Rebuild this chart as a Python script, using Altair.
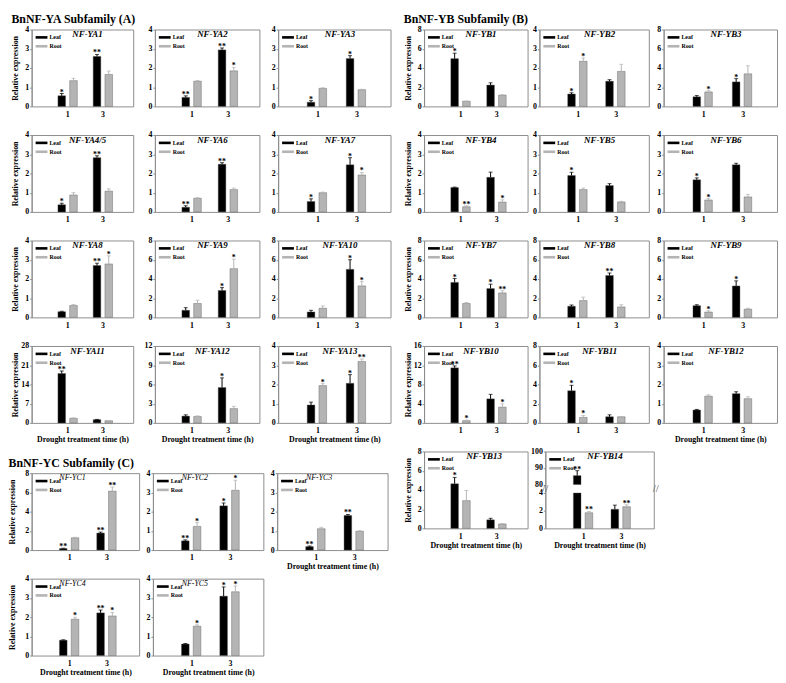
import altair as alt
import pandas as pd

FONT = "Liberation Serif"
TIMES = ["1", "3"]
SERIES = ["Leaf", "Root"]
COLORS = ["#000000", "#b4b4b4"]
XTITLE = "Drought treatment time (h)"
YTITLE = "Relative expression"

# mean expression at 1 h and 3 h
leaf_mean = {
    "NF-YA1": [0.55, 2.60], "NF-YA2": [0.47, 2.94], "NF-YA3": [0.22, 2.49],
    "NF-YA4/5": [0.37, 2.82], "NF-YA6": [0.24, 2.48], "NF-YA7": [0.54, 2.45],
    "NF-YA8": [0.30, 2.70], "NF-YA9": [0.74, 2.80], "NF-YA10": [0.57, 5.00],
    "NF-YA11": [17.97, 1.18], "NF-YA12": [1.06, 5.52], "NF-YA13": [0.93, 2.06],
    "NF-YB1": [4.97, 2.22], "NF-YB2": [0.64, 1.31], "NF-YB3": [1.00, 2.55],
    "NF-YB4": [1.27, 1.80], "NF-YB5": [1.89, 1.37], "NF-YB6": [1.67, 2.45],
    "NF-YB7": [3.64, 3.00], "NF-YB8": [1.16, 4.36], "NF-YB9": [1.22, 3.27],
    "NF-YB10": [11.45, 5.00], "NF-YB11": [3.34, 0.64], "NF-YB12": [0.67, 1.52],
    "NF-YB13": [4.64, 0.89], "NF-YB14": [85.4, 2.16],
    "NF-YC1": [0.16, 1.77], "NF-YC2": [0.48, 2.30], "NF-YC3": [0.18, 1.80],
    "NF-YC4": [0.80, 2.22], "NF-YC5": [0.60, 3.09],
}
leaf_err = {
    "NF-YA1": [0.12, 0.10], "NF-YA2": [0.08, 0.10], "NF-YA3": [0.08, 0.15],
    "NF-YA4/5": [0.08, 0.10], "NF-YA6": [0.08, 0.08], "NF-YA7": [0.14, 0.37],
    "NF-YA8": [0.02, 0.12], "NF-YA9": [0.27, 0.30], "NF-YA10": [0.17, 1.00],
    "NF-YA11": [0.95, 0.10], "NF-YA12": [0.20, 1.50], "NF-YA13": [0.15, 0.45],
    "NF-YB1": [0.57, 0.24], "NF-YB2": [0.07, 0.08], "NF-YB3": [0.13, 0.34],
    "NF-YB4": [0.02, 0.27], "NF-YB5": [0.17, 0.10], "NF-YB6": [0.10, 0.08],
    "NF-YB7": [0.40, 0.46], "NF-YB8": [0.13, 0.26], "NF-YB9": [0.10, 0.53],
    "NF-YB10": [0.40, 0.94], "NF-YB11": [0.57, 0.20], "NF-YB12": [0.03, 0.10],
    "NF-YB13": [0.66, 0.16], "NF-YB14": [3.0, 0.47],
    "NF-YC1": [0.03, 0.10], "NF-YC2": [0.05, 0.15], "NF-YC3": [0.03, 0.05],
    "NF-YC4": [0.02, 0.15], "NF-YC5": [0.03, 0.48],
}
leaf_sig = {
    "NF-YA1": ["*", "**"], "NF-YA2": ["**", "**"], "NF-YA3": ["*", "*"],
    "NF-YA4/5": ["*", "**"], "NF-YA6": ["**", "**"], "NF-YA7": ["*", "*"],
    "NF-YA8": ["", "**"], "NF-YA9": ["", "*"], "NF-YA10": ["", "*"],
    "NF-YA11": ["**", ""], "NF-YA12": ["", "*"], "NF-YA13": ["", "*"],
    "NF-YB1": ["*", ""], "NF-YB2": ["*", ""], "NF-YB3": ["", "*"],
    "NF-YB4": ["", ""], "NF-YB5": ["*", ""], "NF-YB6": ["*", ""],
    "NF-YB7": ["*", "*"], "NF-YB8": ["", "**"], "NF-YB9": ["", "*"],
    "NF-YB10": ["**", ""], "NF-YB11": ["*", ""], "NF-YB12": ["", ""],
    "NF-YB13": ["*", ""], "NF-YB14": ["**", ""],
    "NF-YC1": ["**", "**"], "NF-YC2": ["**", "*"], "NF-YC3": ["**", "**"],
    "NF-YC4": ["", "**"], "NF-YC5": ["", "*"],
}
root_mean = {
    "NF-YA1": [1.34, 1.66], "NF-YA2": [1.31, 1.85], "NF-YA3": [0.94, 0.87],
    "NF-YA4/5": [0.88, 1.08], "NF-YA6": [0.71, 1.16], "NF-YA7": [1.00, 1.92],
    "NF-YA8": [0.62, 2.78], "NF-YA9": [1.45, 5.07], "NF-YA10": [0.95, 3.28],
    "NF-YA11": [1.65, 0.80], "NF-YA12": [1.00, 2.23], "NF-YA13": [1.94, 3.19],
    "NF-YB1": [0.54, 1.18], "NF-YB2": [2.35, 1.82], "NF-YB3": [1.51, 3.39],
    "NF-YB4": [0.27, 0.51], "NF-YB5": [1.16, 0.52], "NF-YB6": [0.62, 0.78],
    "NF-YB7": [1.45, 2.55], "NF-YB8": [1.75, 1.09], "NF-YB9": [0.56, 0.86],
    "NF-YB10": [0.47, 3.28], "NF-YB11": [0.57, 0.64], "NF-YB12": [1.39, 1.26],
    "NF-YB13": [2.89, 0.46], "NF-YB14": [1.77, 2.45],
    "NF-YC1": [1.28, 6.13], "NF-YC2": [1.23, 3.11], "NF-YC3": [1.11, 0.98],
    "NF-YC4": [1.89, 2.06], "NF-YC5": [1.53, 3.32],
}
root_err = {
    "NF-YA1": [0.12, 0.18], "NF-YA2": [0.04, 0.18], "NF-YA3": [0.03, 0.02],
    "NF-YA4/5": [0.12, 0.12], "NF-YA6": [0.03, 0.08], "NF-YA7": [0.03, 0.13],
    "NF-YA8": [0.05, 0.42], "NF-YA9": [0.34, 0.98], "NF-YA10": [0.24, 0.44],
    "NF-YA11": [0.20, 0.05], "NF-YA12": [0.10, 0.35], "NF-YA13": [0.10, 0.13],
    "NF-YB1": [0.02, 0.03], "NF-YB2": [0.17, 0.37], "NF-YB3": [0.13, 0.84],
    "NF-YB4": [0.05, 0.12], "NF-YB5": [0.08, 0.03], "NF-YB6": [0.07, 0.13],
    "NF-YB7": [0.10, 0.23], "NF-YB8": [0.36, 0.23], "NF-YB9": [0.13, 0.10],
    "NF-YB10": [0.10, 0.67], "NF-YB11": [0.20, 0.03], "NF-YB12": [0.07, 0.10],
    "NF-YB13": [1.05, 0.04], "NF-YB14": [0.14, 0.22],
    "NF-YC1": [0.05, 0.43], "NF-YC2": [0.20, 0.52], "NF-YC3": [0.07, 0.03],
    "NF-YC4": [0.10, 0.18], "NF-YC5": [0.07, 0.30],
}
root_sig = {
    "NF-YA1": ["", ""], "NF-YA2": ["", "*"], "NF-YA3": ["", ""],
    "NF-YA4/5": ["", ""], "NF-YA6": ["", ""], "NF-YA7": ["", "*"],
    "NF-YA8": ["", "*"], "NF-YA9": ["", "*"], "NF-YA10": ["", "*"],
    "NF-YA11": ["", ""], "NF-YA12": ["", ""], "NF-YA13": ["*", "**"],
    "NF-YB1": ["", ""], "NF-YB2": ["*", ""], "NF-YB3": ["*", ""],
    "NF-YB4": ["**", "*"], "NF-YB5": ["", ""], "NF-YB6": ["*", ""],
    "NF-YB7": ["", "**"], "NF-YB8": ["", ""], "NF-YB9": ["*", ""],
    "NF-YB10": ["*", "*"], "NF-YB11": ["*", ""], "NF-YB12": ["", ""],
    "NF-YB13": ["", ""], "NF-YB14": ["**", "**"],
    "NF-YC1": ["", "**"], "NF-YC2": ["*", "*"], "NF-YC3": ["", ""],
    "NF-YC4": ["*", "*"], "NF-YC5": ["*", "*"],
}
# y-axis tick values per panel
y_ticks = {
    "NF-YA1": [0, 1, 2, 3, 4], "NF-YA2": [0, 1, 2, 3, 4], "NF-YA3": [0, 1, 2, 3, 4],
    "NF-YA4/5": [0, 1, 2, 3, 4], "NF-YA6": [0, 1, 2, 3, 4], "NF-YA7": [0, 1, 2, 3, 4],
    "NF-YA8": [0, 1, 2, 3, 4], "NF-YA9": [0, 2, 4, 6, 8], "NF-YA10": [0, 2, 4, 6, 8],
    "NF-YA11": [0, 7, 14, 21, 28], "NF-YA12": [0, 3, 6, 9, 12], "NF-YA13": [0, 1, 2, 3, 4],
    "NF-YB1": [0, 2, 4, 6, 8], "NF-YB2": [0, 1, 2, 3, 4], "NF-YB3": [0, 2, 4, 6, 8],
    "NF-YB4": [0, 1, 2, 3, 4], "NF-YB5": [0, 1, 2, 3, 4], "NF-YB6": [0, 1, 2, 3, 4],
    "NF-YB7": [0, 2, 4, 6, 8], "NF-YB8": [0, 2, 4, 6, 8], "NF-YB9": [0, 2, 4, 6, 8],
    "NF-YB10": [0, 4, 8, 12, 16], "NF-YB11": [0, 2, 4, 6, 8], "NF-YB12": [0, 1, 2, 3, 4],
    "NF-YB13": [0, 2, 4, 6, 8], "NF-YB14": [0, 2, 4, 80, 90, 100],
    "NF-YC1": [0, 2, 4, 6, 8], "NF-YC2": [0, 1, 2, 3, 4], "NF-YC3": [0, 1, 2, 3, 4],
    "NF-YC4": [0, 1, 2, 3, 4], "NF-YC5": [0, 1, 2, 3, 4],
}
# broken y axis: (lower segment top, upper segment bottom)
y_break = {"NF-YB14": [4, 80]}

H = 78
SYMBOL = "M-1,-0.22H1V0.22H-1Z"
GRAY = "#8c8c8c"


def panel(g, W, ytitle=False, xtitle=False, ext=8, tpad=0, name_x=0.55, name_style=(9, "bold")):
    rows = []
    for s, mean, err, sig in [("Leaf", leaf_mean[g], leaf_err[g], leaf_sig[g]),
                              ("Root", root_mean[g], root_err[g], root_sig[g])]:
        for t, m, e, sg in zip(TIMES, mean, err, sig):
            rows.append(dict(time=t, series=s, mean=m, top=m + e, sig=sg))
    df = pd.DataFrame(rows)

    brk = y_break.get(g)
    seg = []
    for r in rows:
        if brk and r["mean"] > brk[1]:
            seg.append(dict(time=r["time"], series=r["series"], lo=0, hi=brk[0]))
            seg.append(dict(time=r["time"], series=r["series"], lo=brk[1], hi=r["mean"]))
        else:
            seg.append(dict(time=r["time"], series=r["series"], lo=0, hi=r["mean"]))
    sdf = pd.DataFrame(seg)

    ticks = y_ticks[g]
    if brk:
        yscale = alt.Scale(domain=[0, brk[0], brk[1], ticks[-1]],
                           range=[H, H * 0.54, H * 0.43, 0], nice=False, zero=False)
    else:
        yscale = alt.Scale(domain=[0, ticks[-1]], nice=False)

    if ytitle:
        yaxis = alt.Axis(values=ticks, title=YTITLE, minExtent=ext, maxExtent=ext,
                         titlePadding=tpad, titleFontSize=8)
    else:
        yaxis = alt.Axis(values=ticks, title=" ", minExtent=ext, maxExtent=ext,
                         titlePadding=0, titleFontSize=1)
    xaxis = alt.Axis(title=XTITLE if xtitle else None, labelAngle=0, ticks=False,
                     domain=False, labelPadding=4, titlePadding=1)
    x = alt.X("time:N", scale=alt.Scale(domain=TIMES, paddingInner=0.45,
                                        paddingOuter=0.665, align=0.56), axis=xaxis)
    xo = alt.XOffset("series:N", scale=alt.Scale(domain=SERIES, paddingInner=0.35, paddingOuter=0))
    color = alt.Color("series:N", scale=alt.Scale(domain=SERIES, range=COLORS),
                      legend=alt.Legend(title=None, orient="none", legendX=4, legendY=2,
                                        symbolType=SYMBOL, symbolSize=144, symbolStrokeWidth=0,
                                        labelFont=FONT, labelFontSize=6, labelFontWeight="bold",
                                        labelOffset=2, rowPadding=-5, padding=0))

    bars = alt.Chart(sdf).mark_bar(stroke="#555555", strokeWidth=0.4).encode(
        x=x, xOffset=xo, y=alt.Y("hi:Q", scale=yscale, axis=yaxis), y2="lo:Q", color=color)
    rule = alt.Chart(df).mark_rule(strokeWidth=1).encode(
        x=x, xOffset=xo, y=alt.Y("mean:Q", scale=yscale, axis=yaxis), y2="top:Q", color=color)
    cap = alt.Chart(df).mark_tick(thickness=1, size=4, orient="horizontal").encode(
        x=x, xOffset=xo, y=alt.Y("top:Q", scale=yscale, axis=yaxis), color=color)
    star = alt.Chart(df).mark_text(font=FONT, fontSize=8, fontWeight="bold", baseline="alphabetic",
                                   dy=1, color="black").encode(
        x=x, xOffset=xo, y=alt.Y("top:Q", scale=yscale, axis=yaxis), text="sig:N")
    name = alt.Chart(pd.DataFrame({"gene": [g]})).mark_text(
        font=FONT, fontSize=name_style[0], fontStyle="italic", fontWeight=name_style[1],
        baseline="top", align="center", color="black").encode(
        text="gene:N", x=alt.value(W * name_x), y=alt.value(1))
    layers = [bars, rule, cap, star, name]
    if brk:
        bdf = pd.DataFrame({"mid": [(brk[0] + brk[1]) / 2], "mark": ["//"]})
        for xv in [0, W + 2]:
            layers.append(alt.Chart(bdf).mark_text(font=FONT, fontSize=11, color="#555555").encode(
                text="mark:N", x=alt.value(xv), y=alt.Y("mid:Q", scale=yscale, axis=yaxis)))
    return alt.layer(*layers).properties(width=W, height=H)


def column(items, W, ytitle=False, ext=8, tpad=0, last_xtitle=True, **kw):
    charts = []
    for k, g in enumerate(items):
        charts.append(panel(g, W, ytitle=ytitle, xtitle=(last_xtitle and k == len(items) - 1),
                            ext=ext, tpad=tpad, **kw))
    return alt.vconcat(*charts, spacing=11).resolve_scale(color="independent")


def block_title(t):
    return alt.TitleParams(text=t, anchor="start", fontSize=12, font=FONT, fontWeight="bold",
                           offset=-1, color="black")


colA1 = column(["NF-YA1", "NF-YA4/5", "NF-YA8", "NF-YA11"], 103, ytitle=True, ext=10, tpad=2)
colA2 = column(["NF-YA2", "NF-YA6", "NF-YA9", "NF-YA12"], 106, ext=11)
colA3 = column(["NF-YA3", "NF-YA7", "NF-YA10", "NF-YA13"], 114, ext=8)
blockA = alt.hconcat(colA1, colA2, colA3, spacing=8,
                     title=block_title("BnNF-YA Subfamily (A)")).resolve_scale(color="independent")

cstyle = dict(name_x=0.38, name_style=(8, "normal"))
colC1 = column(["NF-YC1", "NF-YC4"], 109, ytitle=True, ext=10, tpad=5, **cstyle)
colC2 = column(["NF-YC2", "NF-YC5"], 112, ext=8, **cstyle)
colC3 = column(["NF-YC3"], 112, ext=8, **cstyle)
blockC = alt.hconcat(colC1, colC2, colC3, spacing=3,
                     title=block_title("BnNF-YC Subfamily (C)")).resolve_scale(color="independent")

colB1 = column(["NF-YB1", "NF-YB4", "NF-YB7", "NF-YB10"], 105, ytitle=True, ext=10, tpad=2,
               last_xtitle=False)
colB2 = column(["NF-YB2", "NF-YB5", "NF-YB8", "NF-YB11"], 111, ext=8, last_xtitle=False)
colB3 = column(["NF-YB3", "NF-YB6", "NF-YB9", "NF-YB12"], 115, ext=11)
gridB = alt.hconcat(colB1, colB2, colB3, spacing=1).resolve_scale(color="independent")
rowB5 = alt.hconcat(
    panel("NF-YB13", 105, ytitle=True, xtitle=True, ext=10, tpad=2, name_x=0.58),
    panel("NF-YB14", 110, xtitle=True, ext=8),
    spacing=1).resolve_scale(color="independent")
blockB = alt.vconcat(gridB, rowB5, spacing=2,
                     title=block_title("BnNF-YB Subfamily (B)")).resolve_scale(color="independent")

left = alt.vconcat(blockA, blockC, spacing=12).resolve_scale(color="independent")
chart = alt.hconcat(left, blockB, spacing=12).resolve_scale(color="independent").properties(
    padding=0
).configure_view(stroke=GRAY, strokeWidth=1).configure_axis(
    labelFont=FONT, labelFontSize=8, labelFontWeight="bold", labelColor="black",
    titleFont=FONT, titleFontWeight="bold", titleColor="black", titleFontSize=8,
    grid=False, domainColor=GRAY, tickColor=GRAY, tickSize=2, labelPadding=1
).configure_axisX(labelPadding=4).configure_title(font=FONT)

chart.save("out.html", embed_options={"renderer": "svg", "actions": False})
